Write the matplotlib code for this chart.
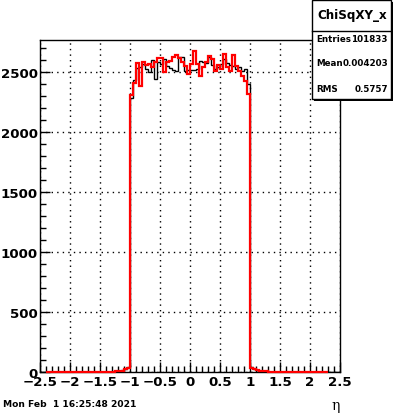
import numpy as np
import matplotlib
matplotlib.use("Agg")
import matplotlib.pyplot as plt
from matplotlib.patches import Rectangle
from matplotlib.lines import Line2D

# ---- data -------------------------------------------------------------
bin_width = 0.05
black_range = (-2.5, 2.5)
red_range = (-2.4, 2.3)

# bins between -1.25 and 1.30 (tails + plateau)
left_tail_black = [6, 9, 13, 22, 40]
left_tail_red = [8, 10, 12, 25, 35]
plateau_black = [2290, 2440, 2533, 2542, 2570, 2528, 2500, 2606, 2444, 2589,
                 2570, 2611, 2556, 2533, 2522, 2514, 2625, 2625, 2514, 2522,
                 2522, 2522, 2528, 2597, 2583, 2578, 2625, 2561, 2528, 2542,
                 2570, 2611, 2578, 2561, 2556, 2528, 2542, 2514, 2528, 2403]
plateau_red = [2311, 2410, 2575, 2390, 2589, 2561, 2570, 2542, 2583, 2617,
               2617, 2500, 2583, 2597, 2625, 2645, 2617, 2583, 2556, 2486,
               2570, 2681, 2570, 2472, 2542, 2583, 2639, 2611, 2514, 2561,
               2528, 2653, 2542, 2514, 2645, 2556, 2514, 2472, 2430, 2319]
right_tail_black = [45, 28, 14, 11, 8, 4]
right_tail_red = [35, 25, 15, 12, 10, 5]
tail_start = -1.25

stats_title = "ChiSqXY_x"
stats_labels = ["Entries", "Mean", "RMS"]
stats_values = ["101833", "0.004203", "0.5757"]
date_text = "Mon Feb  1 16:25:48 2021"
x_label = "η"

# ---- build histograms -----------------------------------------------------
def build(rng, left, plateau, right):
    n = int(round((rng[1] - rng[0]) / bin_width))
    edges = rng[0] + bin_width * np.arange(n + 1)
    vals = np.zeros(n)
    core = list(left) + list(plateau) + list(right)
    i0 = int(round((tail_start - rng[0]) / bin_width))
    vals[i0:i0 + len(core)] = core
    return edges, vals

eb, vb = build(black_range, left_tail_black, plateau_black, right_tail_black)
er, vr = build(red_range, left_tail_red, plateau_red, right_tail_red)

W, H = 400, 414
fig = plt.figure(figsize=(W / 100, H / 100), dpi=100)
ax = fig.add_axes([40 / W, 1 - 373 / H, 300 / W, (373 - 41) / H])

ax.stairs(vb, eb, color="black", lw=1.0, baseline=None, zorder=3)
ax.stairs(vr, er, color="red", lw=1.6, baseline=None, zorder=4, clip_on=False)

ax.set_xlim(-2.5, 2.5)
ax.set_ylim(0, 2770)
ax.set_xticks(np.arange(-2.5, 2.51, 0.5))
ax.set_xticks(np.arange(-2.5, 2.51, 0.1), minor=True)
ax.set_yticks(np.arange(0, 2501, 500))
ax.set_yticks(np.arange(0, 2701, 100), minor=True)
ax.set_xticklabels([("%g" % t).replace("-", "\u2212") for t in np.arange(-2.5, 2.51, 0.5)])
ax.tick_params(which="both", direction="in", top=False, right=False,
               width=1, color="black")
ax.tick_params(which="major", length=7, pad=2)
ax.tick_params(which="minor", length=4)
ax.tick_params(axis="y", pad=1.5)
for lab in ax.get_xticklabels() + ax.get_yticklabels():
    lab.set_fontfamily("DejaVu Sans")
    lab.set_fontweight("bold")
    lab.set_fontsize(9.6)
ax.grid(True, which="major", color="black", lw=1, linestyle=(0, (1, 3)))
for s in ax.spines.values():
    s.set_linewidth(1)

# x label
fig.text(336 / W, 1 - 406 / H, x_label, fontsize=10, family="DejaVu Serif",
         ha="center", va="center")
# date
fig.text(3 / W, 1 - 405 / H, date_text, fontsize=6.6, fontweight="bold",
         family="DejaVu Sans", ha="left", va="center")

# stats box
def fx(px):
    return px / W

def fy(py):
    return 1 - py / H

bx0, bx1, by0, by1 = 312, 391, 1, 100
fig.add_artist(Rectangle((fx(bx0 + 2), fy(by1 + 2)), fx(bx1 - bx0), (by1 - by0) / H,
                         facecolor="black", edgecolor="none", zorder=9))
fig.add_artist(Rectangle((fx(bx0), fy(by1)), fx(bx1 - bx0), (by1 - by0) / H,
                         facecolor="white", edgecolor="black", lw=1, zorder=10))
fig.add_artist(Line2D([fx(bx0), fx(bx1)], [fy(32), fy(32)], color="black", lw=1, zorder=11))
fig.text(fx(352), fy(16), stats_title, fontsize=8.6, fontweight="bold",
         family="DejaVu Sans", ha="center", va="center", zorder=12)
ys = [40, 63, 89]
for lab, val, yy in zip(stats_labels, stats_values, ys):
    fig.text(fx(316), fy(yy), lab, fontsize=6.3, fontweight="bold",
             family="DejaVu Sans", ha="left", va="center", zorder=12)
    fig.text(fx(388), fy(yy), val, fontsize=6.3, fontweight="bold",
             family="DejaVu Sans", ha="right", va="center", zorder=12)

fig.savefig("out.png", dpi=100)
